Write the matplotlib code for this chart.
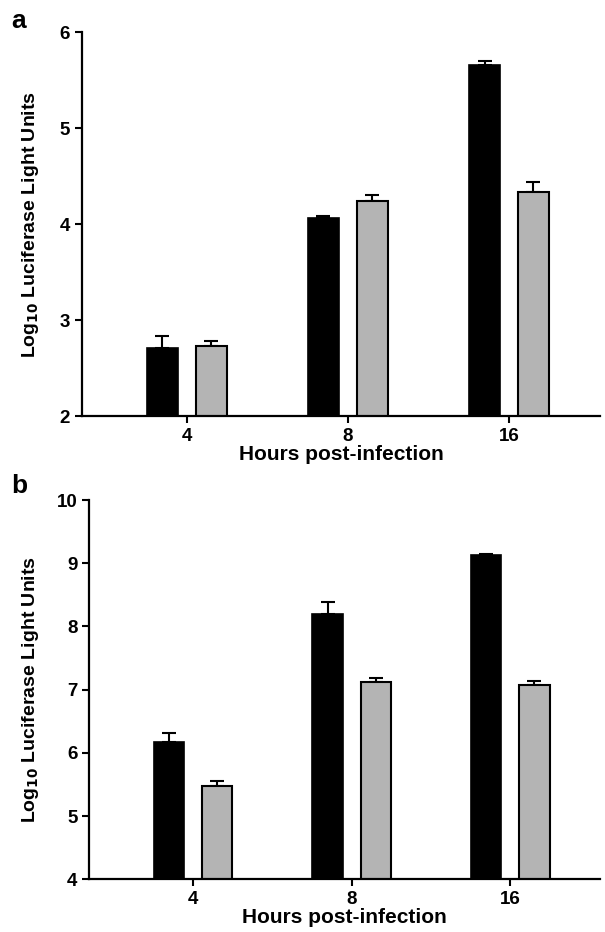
import numpy as np
import matplotlib.pyplot as plt

plt.rcParams['font.family'] = ['Liberation Sans', 'DejaVu Sans']
plt.rcParams['font.weight'] = 'bold'

hours = ["4", "8", "16"]

# panel a
a_black = [2.71, 4.06, 5.66]
a_black_err = [0.12, 0.03, 0.04]
a_grey = [2.73, 4.24, 4.34]
a_grey_err = [0.05, 0.06, 0.10]

# panel b
b_black = [6.17, 8.19, 9.13]
b_black_err = [0.14, 0.19, 0.01]
b_grey = [5.48, 7.12, 7.07]
b_grey_err = [0.07, 0.06, 0.07]

grey = "#b4b4b4"
w = 0.19
off = 0.152

fig = plt.figure(figsize=(6.05, 9.32), dpi=100)
ax1 = fig.add_axes([0.135, 0.5536, 0.857, 0.4117])
ax2 = fig.add_axes([0.1476, 0.0565, 0.8444, 0.407])


def draw(ax, blk, blk_e, gry, gry_e, ylim, yticks, ylab_x):
    x = np.arange(len(hours))
    ax.bar(x - off, blk, w, color="black", edgecolor="black", linewidth=1.2, zorder=2)
    ax.bar(x + off, gry, w, color=grey, edgecolor="black", linewidth=1.5, zorder=2)
    ax.errorbar(x - off, blk, yerr=[np.zeros(3), blk_e], fmt="none", ecolor="black",
                elinewidth=1.5, capsize=5, capthick=1.5, zorder=1)
    ax.errorbar(x + off, gry, yerr=[np.zeros(3), gry_e], fmt="none", ecolor="black",
                elinewidth=1.5, capsize=5, capthick=1.5, zorder=1)
    ax.set_xlim(-0.653, 2.566)
    ax.set_ylim(*ylim)
    ax.set_yticks(yticks)
    ax.set_xticks(x)
    ax.set_xticklabels(hours)
    for s in ["top", "right"]:
        ax.spines[s].set_visible(False)
    for s in ["left", "bottom"]:
        ax.spines[s].set_linewidth(1.6)
    ax.tick_params(axis="both", direction="out", length=5, width=1.5, labelsize=13.5, pad=3.5)
    ax.set_xlabel("Hours post-infection", fontsize=15, fontweight="bold", labelpad=0)
    ax.set_ylabel(r"Log$_{\mathbf{10}}$ Luciferase Light Units", fontsize=14, fontweight="bold")
    ax.yaxis.set_label_coords(ylab_x, 0.5)


draw(ax1, a_black, a_black_err, a_grey, a_grey_err, (2, 6), [2, 3, 4, 5, 6], -0.079)
draw(ax2, b_black, b_black_err, b_grey, b_grey_err, (4, 10), [4, 5, 6, 7, 8, 9, 10], -0.095)

fig.text(0.018, 0.978, "a", fontsize=19, fontweight="bold", va="center")
fig.text(0.018, 0.479, "b", fontsize=19, fontweight="bold", va="center")

fig.savefig("out.png", dpi=100)
